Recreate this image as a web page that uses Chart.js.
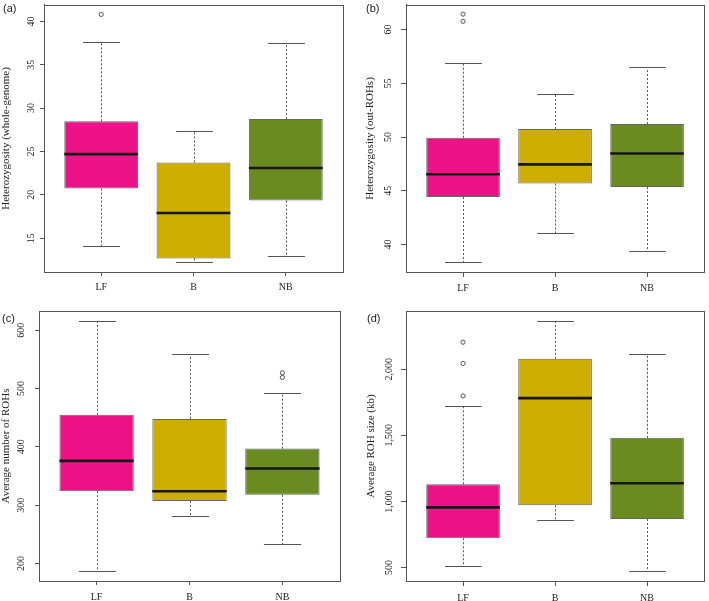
<!DOCTYPE html>
<html><head><meta charset="utf-8">
<script src="https://cdn.jsdelivr.net/npm/chart.js@4.4.1/dist/chart.umd.min.js"></script>
<style>
html,body{margin:0;padding:0;background:#fff;}
#wrap{position:relative;width:709px;height:601px;overflow:hidden;background:#fff;}
.pane{position:absolute;}
.pane canvas{display:block;}
.tag{position:absolute;font:11px "Liberation Sans",Arial,sans-serif;line-height:11px;color:#222;white-space:nowrap;}
</style></head><body>
<div id="wrap">
  <div class="pane" style="left:0;top:0;"><canvas id="ca" width="354" height="300"></canvas></div>
  <div class="pane" style="left:354px;top:0;"><canvas id="cb" width="355" height="300"></canvas></div>
  <div class="pane" style="left:0;top:300px;"><canvas id="cc" width="354" height="301"></canvas></div>
  <div class="pane" style="left:354px;top:300px;"><canvas id="cd" width="355" height="301"></canvas></div>
  <div class="tag" style="left:3px;top:3px;">(a)</div>
  <div class="tag" style="left:366px;top:3px;">(b)</div>
  <div class="tag" style="left:2px;top:313px;">(c)</div>
  <div class="tag" style="left:367px;top:313px;">(d)</div>
</div>
<script>
// ---------- DATA ----------
const categories = ['LF', 'B', 'NB'];
const boxColors = ['#EE1289', '#CDAD00', '#698B22'];

// (a) Heterozygosity (whole-genome)
const hetWG_low    = [14.08, 12.25, 12.97];
const hetWG_q1     = [20.72, 12.67, 19.34];
const hetWG_median = [24.69, 17.90, 23.09];
const hetWG_q3     = [28.47, 23.74, 28.73];
const hetWG_high   = [37.60, 27.36, 37.48];
const hetWG_out    = [[40.8], [], []];
const hetWG_ticks  = [15, 20, 25, 30, 35, 40];

// (b) Heterozygosity (out-ROHs)
const hetOut_low    = [38.37, 41.07, 39.45];
const hetOut_q1     = [44.42, 45.68, 45.35];
const hetOut_median = [46.54, 47.46, 48.48];
const hetOut_q3     = [49.95, 50.75, 51.21];
const hetOut_high   = [56.90, 54.00, 56.53];
const hetOut_out    = [[60.77, 61.44], [], []];
const hetOut_ticks  = [40, 45, 50, 55, 60];

// (c) Average number of ROHs
const nRoh_low    = [187, 282, 234];
const nRoh_q1     = [324, 307, 318];
const nRoh_median = [376, 324, 363];
const nRoh_q3     = [455, 448, 397];
const nRoh_high   = [615, 559, 492];
const nRoh_out    = [[], [], [519, 527]];
const nRoh_ticks  = [200, 300, 400, 500, 600];

// (d) Average ROH size (kb)
const sRoh_low    = [514, 862, 474];
const sRoh_q1     = [721, 970, 867];
const sRoh_median = [955, 1781, 1137];
const sRoh_q3     = [1129, 2078, 1481];
const sRoh_high   = [1723, 2363, 2118];
const sRoh_out    = [[1798, 2043, 2204], [], []];
const sRoh_ticks  = [500, 1000, 1500, 2000];

// ---------- DRAWING ----------
const SERIF = '"Liberation Serif", "Times New Roman", serif';
const measureCtx = document.createElement('canvas').getContext('2d');
function textWidth(str, size) { measureCtx.font = size + 'px ' + SERIF; return measureCtx.measureText(str).width; }
const fmtNum = v => Number(v).toLocaleString('en-US');

function makeBoxChart(id, st, lay) {
  const stats = st;
  const boxData = categories.map((c, i) => ({ x: i + 1, y: [stats.q1[i], stats.q3[i]] }));
  const outData = [];
  stats.out.forEach((arr, i) => arr.forEach(v => outData.push({ x: i + 1, y: v })));
  const widest = Math.max(...stats.ticks.map(t => textWidth(fmtNum(t), lay.tickSize)));
  const yPad = lay.labelGap - lay.tl - widest / 2;

  const extras = {
    id: 'boxExtras_' + id,
    beforeDatasetsDraw(chart) {
      const { ctx, scales: { x, y } } = chart;
      const meta = chart.getDatasetMeta(0);
      ctx.save();
      ctx.strokeStyle = '#555'; ctx.lineWidth = 1;
      categories.forEach((c, i) => {
        const cx = Math.round(x.getPixelForValue(i + 1)) + 0.5;
        const half = meta.data[i].width / 2;
        const yH = Math.round(y.getPixelForValue(stats.high[i])) + 0.5;
        const yL = Math.round(y.getPixelForValue(stats.low[i])) + 0.5;
        const y3 = y.getPixelForValue(stats.q3[i]);
        const y1 = y.getPixelForValue(stats.q1[i]);
        ctx.setLineDash([2, 2]);
        ctx.beginPath(); ctx.moveTo(cx, y3); ctx.lineTo(cx, yH); ctx.moveTo(cx, y1); ctx.lineTo(cx, yL); ctx.stroke();
        ctx.setLineDash([]);
        ctx.beginPath();
        ctx.moveTo(cx - half / 2, yH); ctx.lineTo(cx + half / 2, yH);
        ctx.moveTo(cx - half / 2, yL); ctx.lineTo(cx + half / 2, yL);
        ctx.stroke();
      });
      ctx.restore();
    },
    afterDatasetsDraw(chart) {
      const { ctx, chartArea: a, scales: { x, y } } = chart;
      const meta = chart.getDatasetMeta(0);
      ctx.save();
      categories.forEach((c, i) => {
        const cx = x.getPixelForValue(i + 1);
        const half = meta.data[i].width / 2;
        const ym = y.getPixelForValue(stats.median[i]);
        ctx.strokeStyle = '#161616'; ctx.lineWidth = 2.6;
        ctx.beginPath(); ctx.moveTo(cx - half, ym); ctx.lineTo(cx + half, ym); ctx.stroke();
      });
      ctx.strokeStyle = '#555'; ctx.lineWidth = 1;
      ctx.strokeRect(Math.round(a.left) + 0.5, Math.round(a.top) + 0.5,
                     Math.round(a.right) - Math.round(a.left), Math.round(a.bottom) - Math.round(a.top));
      ctx.restore();
    }
  };

  return new Chart(document.getElementById(id), {
    type: 'bar',
    data: {
      datasets: [
        {
          type: 'bar', data: boxData,
          backgroundColor: boxColors, borderColor: 'rgba(35,35,35,0.7)', borderWidth: 1,
          borderSkipped: false, barPercentage: 0.8, categoryPercentage: 1, order: 2
        },
        {
          type: 'scatter', data: outData,
          pointStyle: 'circle', pointRadius: 2.1, pointBorderWidth: 0.9,
          pointBackgroundColor: 'rgba(0,0,0,0)', pointBorderColor: '#444', order: 1
        }
      ]
    },
    options: {
      responsive: false, animation: false,
      layout: { padding: { top: lay.padTop, right: lay.padRight, left: 0, bottom: 0 } },
      plugins: { legend: { display: false }, tooltip: { enabled: false } },
      scales: {
        x: {
          type: 'linear', min: 0.38, max: 3.62, offset: false,
          afterBuildTicks: sc => { sc.ticks = categories.map((c, i) => ({ value: i + 1 })); },
          ticks: {
            callback: v => categories[Math.round(v) - 1],
            font: { family: SERIF, size: lay.tickSize }, color: '#222',
            padding: lay.xPad, maxRotation: 0, autoSkip: false
          },
          grid: { display: true, offset: false, drawOnChartArea: false, drawTicks: true, tickLength: lay.tl, tickColor: '#555' },
          border: { display: true, color: '#555' },
          afterFit: sc => { sc.height = lay.xh; sc.paddingLeft = 0; sc.paddingRight = 0; }
        },
        y: {
          type: 'linear', min: lay.yMin, max: lay.yMax,
          afterBuildTicks: sc => { sc.ticks = stats.ticks.map(v => ({ value: v })); },
          ticks: {
            callback: v => fmtNum(v),
            font: { family: SERIF, size: lay.tickSize }, color: '#222',
            padding: yPad, minRotation: 90, maxRotation: 90, crossAlign: 'center', autoSkip: false
          },
          grid: { display: true, offset: false, drawOnChartArea: false, drawTicks: true, tickLength: lay.tl, tickColor: '#555' },
          border: { display: true, color: '#555' },
          title: {
            display: true, text: lay.title, color: '#222',
            font: { family: SERIF, size: lay.titleSize }, padding: { top: lay.titlePad, bottom: 0 }
          },
          afterFit: sc => { sc.width = lay.yw; sc.paddingTop = 0; sc.paddingBottom = 0; }
        }
      }
    },
    plugins: [extras]
  });
}

makeBoxChart('ca',
  { low: hetWG_low, q1: hetWG_q1, median: hetWG_median, q3: hetWG_q3, high: hetWG_high, out: hetWG_out, ticks: hetWG_ticks },
  { title: 'Heterozygosity (whole-genome)', yMin: 11.1, yMax: 41.9, yw: 44, xh: 28, padTop: 3, padRight: 11,
    labelGap: 12.5, tl: 4, xPad: 5, titlePad: 0, tickSize: 10, titleSize: 11 });

makeBoxChart('cb',
  { low: hetOut_low, q1: hetOut_q1, median: hetOut_median, q3: hetOut_q3, high: hetOut_high, out: hetOut_out, ticks: hetOut_ticks },
  { title: 'Heterozygosity (out-ROHs)', yMin: 37.45, yMax: 62.3, yw: 52, xh: 28, padTop: 3, padRight: 3,
    labelGap: 18, tl: 5, xPad: 5, titlePad: 10, tickSize: 10, titleSize: 11 });

makeBoxChart('cc',
  { low: nRoh_low, q1: nRoh_q1, median: nRoh_median, q3: nRoh_q3, high: nRoh_high, out: nRoh_out, ticks: nRoh_ticks },
  { title: 'Average number of ROHs', yMin: 170, yMax: 633, yw: 39, xh: 20, padTop: 11, padRight: 14,
    labelGap: 17.5, tl: 4, xPad: 6, titlePad: 0, tickSize: 10, titleSize: 11 });

makeBoxChart('cd',
  { low: sRoh_low, q1: sRoh_q1, median: sRoh_median, q3: sRoh_q3, high: sRoh_high, out: sRoh_out, ticks: sRoh_ticks },
  { title: 'Average ROH size (kb)', yMin: 398, yMax: 2440, yw: 52, xh: 20, padTop: 11, padRight: 3,
    labelGap: 17, tl: 5, xPad: 6, titlePad: 11, tickSize: 10, titleSize: 11 });
</script>
</body></html>
